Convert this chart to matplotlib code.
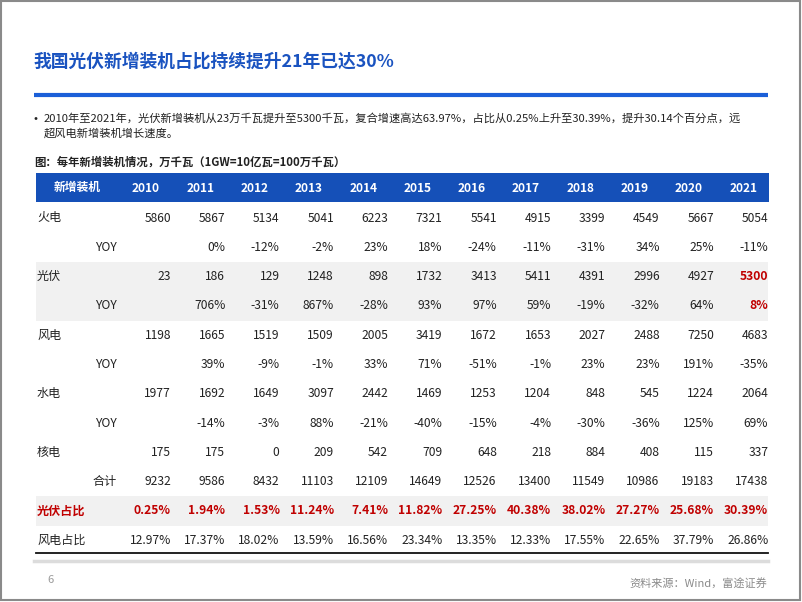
import matplotlib
matplotlib.use("Agg")
import matplotlib.pyplot as plt
from matplotlib.patches import Rectangle

plt.rcParams['font.family'] = ['Noto Sans CJK SC', 'DejaVu Sans']

# data, 万千瓦
years = ['2010', '2011', '2012', '2013', '2014', '2015', '2016', '2017', '2018', '2019', '2020', '2021']
thermal = [5860, 5867, 5134, 5041, 6223, 7321, 5541, 4915, 3399, 4549, 5667, 5054]
thermal_yoy = [None, 0, -12, -2, 23, 18, -24, -11, -31, 34, 25, -11]
pv = [23, 186, 129, 1248, 898, 1732, 3413, 5411, 4391, 2996, 4927, 5300]
pv_yoy = [None, 706, -31, 867, -28, 93, 97, 59, -19, -32, 64, 8]
wind = [1198, 1665, 1519, 1509, 2005, 3419, 1672, 1653, 2027, 2488, 7250, 4683]
wind_yoy = [None, 39, -9, -1, 33, 71, -51, -1, 23, 23, 191, -35]
hydro = [1977, 1692, 1649, 3097, 2442, 1469, 1253, 1204, 848, 545, 1224, 2064]
hydro_yoy = [None, -14, -3, 88, -21, -40, -15, -4, -30, -36, 125, 69]
nuclear = [175, 175, 0, 209, 542, 709, 648, 218, 884, 408, 115, 337]
total = [9232, 9586, 8432, 11103, 12109, 14649, 12526, 13400, 11549, 10986, 19183, 17438]
pv_share = [0.25, 1.94, 1.53, 11.24, 7.41, 11.82, 27.25, 40.38, 38.02, 27.27, 25.68, 30.39]
wind_share = [12.97, 17.37, 18.02, 13.59, 16.56, 23.34, 13.35, 12.33, 17.55, 22.65, 37.79, 26.86]

title = '我国光伏新增装机占比持续提升21年已达30%'
bullet = ('2010年至2021年，光伏新增装机从23万千瓦提升至5300千瓦，复合增速高达63.97%，占比从0.25%上升至30.39%，提升30.14个百分点，远\n'
          '超风电新增装机增长速度。')
subtitle = '图：每年新增装机情况，万千瓦（1GW=10亿瓦=100万千瓦）'
source = '资料来源：Wind，富途证券'

BLUE = '#1a53c0'
RED = '#c00000'
TXT = '#222222'


def pct(v):
    return '' if v is None else f'{v}%'


def pct2(v):
    return f'{v:.2f}%'


# rows: (left label, sub label, cells, style)
rows = [
    ('火电', '', [str(v) for v in thermal], None),
    ('', 'YOY', [pct(v) for v in thermal_yoy], None),
    ('光伏', '', [str(v) for v in pv], 'pv'),
    ('', 'YOY', [pct(v) for v in pv_yoy], 'pv'),
    ('风电', '', [str(v) for v in wind], None),
    ('', 'YOY', [pct(v) for v in wind_yoy], None),
    ('水电', '', [str(v) for v in hydro], None),
    ('', 'YOY', [pct(v) for v in hydro_yoy], None),
    ('核电', '', [str(v) for v in nuclear], None),
    ('', '合计', [str(v) for v in total], None),
    ('光伏占比', '', [pct2(v) for v in pv_share], 'share'),
    ('风电占比', '', [pct2(v) for v in wind_share], None),
]

fig = plt.figure(figsize=(8.02, 6.02), dpi=100)
ax = fig.add_axes([0, 0, 1, 1])
ax.set_xlim(0, 802)
ax.set_ylim(602, 0)
ax.axis('off')

# slide frame
ax.add_patch(Rectangle((0.8, 0.8), 799.5, 599, fill=False, ec='#8a8a8a', lw=1.5))

ax.text(33, 62, title, fontsize=12.8, fontweight='bold', color=BLUE, va='center', ha='left')
ax.plot([34, 768], [94.5, 94.5], color='#1b5fd8', lw=3, solid_capstyle='butt')

ax.text(29, 120, '•', fontsize=10, color=TXT, va='center')
ax.text(44, 125.5, bullet, fontsize=8.1, color=TXT, va='center', ha='left', linespacing=1.55)
ax.text(34, 162, subtitle, fontsize=8.2, fontweight='bold', color=TXT, va='center')

# table layout
x0, x1 = 36, 769
col_right0, col_step = 171, 54.3
row_y0, row_step = 218, 29.3
head_top, head_bot = 173, 202

ax.add_patch(Rectangle((x0, head_top), x1 - x0, head_bot - head_top, color='#1550b8', lw=0))
ax.text(77, 188, '新增装机', fontsize=8.5, fontweight='bold', color='white', ha='center', va='center')
for j, y in enumerate(years):
    ax.text(col_right0 + j * col_step - 25, 188, y, fontsize=8.6, fontweight='bold',
            color='white', ha='center', va='center')

for i, (lab, sub, cells, style) in enumerate(rows):
    yc = row_y0 + i * row_step
    if style in ('pv', 'share'):
        ax.add_patch(Rectangle((x0, yc - row_step / 2), 768 - x0, row_step, color='#f1f1f1', lw=0, zorder=0))
    bold = style == 'share'
    col = RED if style == 'share' else TXT
    if lab:
        ax.text(37, yc, lab, fontsize=8.7, color=col, fontweight='bold' if bold else 'normal',
                ha='left', va='center')
    if sub:
        ax.text(117, yc, sub, fontsize=8.7, color=TXT, ha='right', va='center')
    for j, c in enumerate(cells):
        ccol, cw = col, ('bold' if bold else 'normal')
        if style == 'pv' and j == len(cells) - 1:
            ccol, cw = RED, 'bold'
        ax.text(col_right0 + j * col_step, yc, c, fontsize=8.7, color=ccol, fontweight=cw,
                ha='right', va='center')

ax.plot([x0, 768], [553, 553], color='#111111', lw=1.3)
ax.plot([34, 768], [561, 561], color='#dcdcdc', lw=2.5)

ax.text(47, 580, '6', fontsize=8, color='#9a9a9a', ha='left', va='center')
ax.text(767, 583, source, fontsize=8, color='#8a8a8a', ha='right', va='center')

fig.savefig('out.png', dpi=100)
